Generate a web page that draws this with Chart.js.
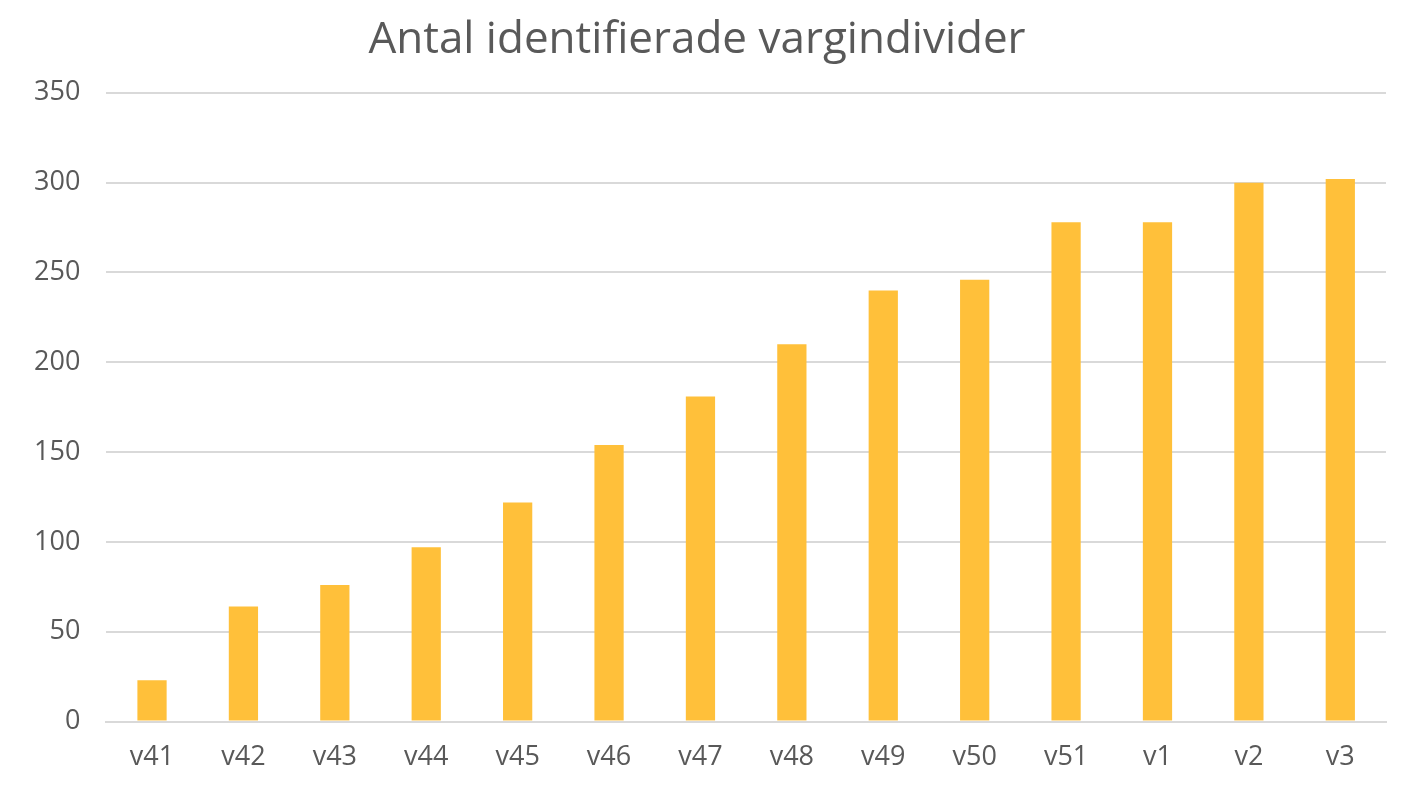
<!DOCTYPE html>
<html><head><meta charset="utf-8">
<script src="https://cdn.jsdelivr.net/npm/chart.js@4"></script>
<style>html,body{margin:0;background:#fff}#w{width:1412px;height:802px}</style>
</head><body><div id="w"><canvas id="c"></canvas></div>
<script>
const categories=["v41","v42","v43","v44","v45","v46","v47","v48","v49","v50","v51","v1","v2","v3"];
const values=[23,64,76,97,122,154,181,210,240,246,278,278,300,302];
new Chart(document.getElementById('c'),{
type:'bar',
data:{labels:categories,datasets:[{data:values,backgroundColor:'#FFC03A',categoryPercentage:1,barPercentage:0.32}]},
options:{responsive:true,maintainAspectRatio:false,animation:false,
layout:{padding:{left:8,right:26,top:14,bottom:16}},
plugins:{legend:{display:false},tooltip:{enabled:false},
title:{display:true,text:'Antal identifierade vargindivider',color:'#595959',font:{family:'Open Sans',size:44,weight:'normal'},padding:{top:0,bottom:26}}},
scales:{
x:{grid:{display:false},border:{color:'#d9d9d9',width:2},ticks:{color:'#595959',font:{family:'Open Sans',size:27},padding:12}},
y:{min:0,max:350,ticks:{stepSize:50,color:'#595959',font:{family:'Open Sans',size:27},padding:26},grid:{color:'#d9d9d9',lineWidth:2,drawTicks:false},border:{display:false}}
}}});
</script></body></html>
